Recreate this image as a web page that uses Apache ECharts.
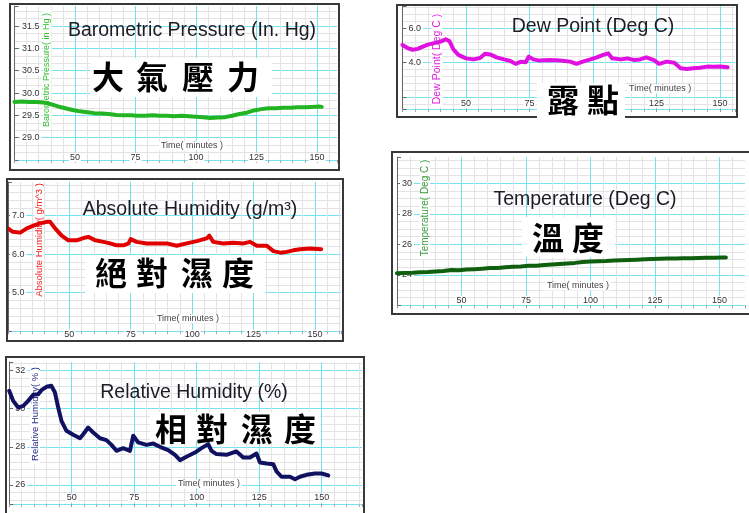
<!DOCTYPE html>
<html><head><meta charset="utf-8">
<script src="https://cdn.jsdelivr.net/npm/echarts@6/dist/echarts.min.js"></script>
<style>html,body{margin:0;padding:0;background:#fff}#c{width:749px;height:513px}</style>
</head><body><div id="c"></div>
<script>
// ---------- data ----------
const xTickLabels = [50, 75, 100, 125, 150];

const baroTime  = [25,28,31,34,37,40,43,46,49,52,55,58,61,64,67,70,73,76,79,82,85,88,91,94,97,100,103,106,109,112,115,118,121,124,127,130,133,136,139,142,145,148,151,152];
const baroValue = [29.80,29.81,29.80,29.80,29.79,29.75,29.70,29.66,29.62,29.59,29.57,29.55,29.54,29.53,29.51,29.50,29.50,29.49,29.49,29.50,29.49,29.49,29.48,29.49,29.48,29.47,29.46,29.44,29.45,29.46,29.49,29.53,29.56,29.61,29.64,29.66,29.66,29.67,29.67,29.68,29.68,29.69,29.70,29.69];
const baroTicks = [29.0, 29.5, 30.0, 30.5, 31.0, 31.5];

const dewTime  = [25,27,29,31,33,35,37,40,42,43.5,45,47,50,53,55.5,57.5,59.5,62,65,67.5,69.5,71.5,73.5,74.7,76.5,79,83,87,91,93.5,96,99,101.5,104,106,107.5,111,113.5,116,118.5,121,124,126,129,132,134.5,137,139.5,142,145,147.5,150,153];
const dewValue = [5.03,4.85,4.75,4.80,4.93,5.05,5.12,5.22,5.36,5.25,4.78,4.45,4.25,4.19,4.27,4.52,4.48,4.31,4.19,4.10,3.93,4.05,4.02,4.35,4.19,4.12,4.16,4.12,4.06,3.93,4.06,4.19,4.31,4.45,4.54,4.26,4.19,4.25,4.16,4.19,4.31,4.15,3.93,4.06,4.00,3.68,3.63,3.67,3.71,3.77,3.76,3.77,3.73];
const dewTicks = [4.0, 6.0];

const absTime  = [25,27,30,32.7,35.4,38,40.8,42.2,44.2,46.9,49.6,53,55.7,57.8,60.5,63.9,66.6,69.3,72,74.1,75,77.4,81.5,85.6,89.7,93.7,97.8,101.9,105.9,107,108.6,112.7,116.8,120.9,123.6,126.3,130.4,133.1,135.9,138.5,141.2,143.9,148,152.5];
const absValue = [6.67,6.58,6.56,6.67,6.74,6.80,6.84,6.84,6.67,6.48,6.36,6.36,6.42,6.45,6.36,6.32,6.28,6.23,6.23,6.28,6.39,6.32,6.28,6.28,6.28,6.22,6.28,6.34,6.41,6.48,6.32,6.28,6.30,6.28,6.32,6.22,6.22,6.08,6.04,6.06,6.10,6.13,6.15,6.13];
const absTicks = [5.0, 6.0, 7.0];

const tempTime  = [25,28,31,34,37,40,43,46,49,52,55,58,61,64,67,70,73,76,79,82,85,88,91,94,97,100,103,106,109,112,115,118,121,124,127,130,133,136,139,142,145,148,151,152.5];
const tempValue = [24.10,24.12,24.13,24.16,24.18,24.22,24.25,24.31,24.30,24.35,24.37,24.40,24.44,24.45,24.50,24.53,24.55,24.59,24.60,24.64,24.67,24.70,24.74,24.78,24.84,24.87,24.88,24.90,24.94,24.95,24.97,24.99,25.02,25.03,25.05,25.06,25.07,25.08,25.09,25.10,25.12,25.12,25.13,25.13];
const tempTicks = [24, 26, 28, 30];

const rhTime  = [25,26.6,28.6,30.6,32.6,34.6,36.6,37.9,39.9,41.9,43.3,44.6,45.9,47.9,50.6,53.3,54.6,56.6,58.6,61.3,63.9,65.9,67.9,70.6,73.3,74.6,76.6,79.9,82.6,85.3,88.6,91.3,93.3,95.9,99.3,101.9,104.6,105.9,107.9,111.9,115.9,118.6,121.3,123.9,125.3,127.9,130.6,131.9,133.9,137.3,139.3,141.3,143.9,147.3,149.9,152.6];
const rhValue = [30.94,30.41,30.06,30.15,30.41,30.73,30.76,30.97,31.15,31.20,30.85,30.06,29.36,28.84,28.63,28.45,28.66,29.01,28.75,28.45,28.35,28.10,27.79,27.93,27.79,28.58,28.23,28.10,28.17,28.00,27.83,27.58,27.30,27.48,27.70,27.93,28.14,27.79,27.62,27.58,27.76,27.44,27.44,27.65,27.18,27.13,27.09,26.71,26.43,26.43,26.30,26.43,26.53,26.60,26.60,26.50];
const rhTicks = [26, 28, 30, 32];

// ---------- layout / style ----------
const CYAN = '#74e3ef', MINOR = '#e3e3e3', LAT = '"Liberation Sans", Arial, sans-serif';
const CJK = '"Noto Sans CJK TC", "Noto Sans CJK SC", sans-serif';

const panels = [
  { name:'Barometric Pressure( in Hg )', title:'Barometric Pressure (In. Hg)', cjk:'大氣壓力',
    grid:{left:14.5, top:6, width:322.5, height:154}, xMax:158.3, yMin:28.5, yMax:31.95, yStep:0.5, yMinor:3, dec:1,
    xMargin:2.4, yMargin:5.5, color:'#22b422', time:baroTime, value:baroValue, ticks:baroTicks },
  { name:'Dew Point( Deg C )', title:'Dew Point (Deg C)', cjk:'露點',
    grid:{left:402.5, top:6, width:332.5, height:103.1}, xMax:155.9, yMin:1.3, yMax:7.294, yStep:2, yMinor:5, dec:1,
    xMargin:6, yMargin:4, color:'#e010e0', time:dewTime, value:dewValue, ticks:dewTicks },
  { name:'Absolute Humidity( g/m^3 )', title:'Absolute Humidity (g/m³)', cjk:'絕對濕度',
    grid:{left:7.9, top:182, width:333.1, height:149.2}, xMax:160.6, yMin:4, yMax:7.875, yStep:1, yMinor:5, dec:1,
    xMargin:-3, yMargin:2, color:'#e00000', time:absTime, value:absValue, ticks:absTicks },
  { name:'Temperature( Deg C )', title:'Temperature (Deg C)', cjk:'溫度',
    grid:{left:397, top:157, width:352, height:148.3}, xMax:159.9, yMin:22, yMax:31.72, yStep:2, yMinor:4, dec:0,
    xMargin:5, yMargin:3, color:'#0f5f0f', time:tempTime, value:tempValue, ticks:tempTicks },
  { name:'Relative Humidity( % )', title:'Relative Humidity (%)', cjk:'相對濕度',
    grid:{left:9.2, top:362, width:352.8, height:142}, xMax:166.1, yMin:25, yMax:32.45, yStep:2, yMinor:5, dec:0,
    xMargin:6, yMargin:4, color:'#111162', time:rhTime, value:rhValue, ticks:rhTicks }
];

// decoration positions
const deco = [
  { frame:[10,4,329,166], nameAt:[47,70,9,'#2bbf2b'], titleAt:[192,31], timeAt:[192,146,'center'],
    box:[90,58,182,39], chars:[108,152,198,243], charY:77 },
  { frame:[397,5,340,112], nameAt:[437,59,10.5,'#e020e0'], titleAt:[593,27], timeAt:[627,89,'left'],
    box:[537,83,88,39], chars:[563,603], charY:100 },
  { frame:[7,179,336,162], nameAt:[39,240,9.5,'#ee2020'], titleAt:[190,210], timeAt:[188,319,'center'],
    box:[85,255,180,38], chars:[111,152,197,238], charY:273 },
  { frame:[392,152,362,162], nameAt:[425,208,10,'#3c9a3c'], titleAt:[585,200], timeAt:[578,286,'center'],
    box:[522,217,93,40], chars:[548,588], charY:238 },
  { frame:[6,357,358,170], nameAt:[35,414,9.5,'#2c2c8c'], titleAt:[194,393], timeAt:[209,484,'center'],
    box:[150,412,170,29], chars:[171,212,257,300], charY:429 }
];

const near = (v, list) => list.some(t => Math.abs(t - v) < 1e-6);

const grids = [], xAxes = [], yAxes = [], series = [], graphics = [];
panels.forEach((p, i) => {
  grids.push(Object.assign({ containLabel:false }, p.grid));
  xAxes.push({
    type:'value', gridIndex:i, min:25, max:p.xMax, minInterval:25, maxInterval:25,
    axisLine:{ show:true, onZero:false, lineStyle:{ color:CYAN, width:1 } },
    axisTick:{ show:true, length:3, lineStyle:{ color:'#999' } },
    minorTick:{ show:true, splitNumber:5, length:3, lineStyle:{ color:'#aaa' } },
    splitLine:{ show:true, showMinLine:false, showMaxLine:false, lineStyle:{ color:CYAN, width:1 } },
    minorSplitLine:{ show:true, lineStyle:{ color:MINOR, width:1 } },
    axisLabel:{ show:true, inside:true, margin:p.xMargin, verticalAlign:'middle', fontSize:9, fontFamily:LAT,
      color:'#333', backgroundColor:'#fff', padding:[0,1],
      formatter: v => near(v, xTickLabels) ? String(Math.round(v)) : '' }
  });
  yAxes.push({
    type:'value', gridIndex:i, min:p.yMin, max:p.yMax, minInterval:p.yStep, maxInterval:p.yStep,
    axisLine:{ show:true, onZero:false, lineStyle:{ color:'#666', width:1 } },
    axisTick:{ show:true, inside:true, length:4, lineStyle:{ color:'#666' } },
    minorTick:{ show:false, splitNumber:p.yMinor },
    splitLine:{ show:true, showMinLine:false, showMaxLine:false, lineStyle:{ color:CYAN, width:1 } },
    minorSplitLine:{ show:true, lineStyle:{ color:MINOR, width:1 } },
    axisLabel:{ show:true, inside:true, margin:p.yMargin, fontSize:9, fontFamily:LAT, color:'#333',
      backgroundColor:'#fff', padding:[0,2],
      formatter: v => near(v, p.ticks) ? v.toFixed(p.dec) : '' }
  });
  series.push({
    type:'line', xAxisIndex:i, yAxisIndex:i, showSymbol:false, animation:false, z:3,
    lineStyle:{ color:p.color, width:4, join:'round', cap:'round' },
    data: p.time.map((t, j) => [t, p.value[j]])
  });

  const d = deco[i];
  graphics.push({ type:'rect', z:20, shape:{ x:d.frame[0], y:d.frame[1], width:d.frame[2], height:d.frame[3] },
    style:{ fill:null, stroke:'#383838', lineWidth:2 } });
  graphics.push({ type:'text', z:1, x:d.nameAt[0], y:d.nameAt[1], rotation:Math.PI/2,
    style:{ text:p.name, align:'center', verticalAlign:'middle', fill:d.nameAt[3],
      font:`${d.nameAt[2]}px ${LAT}`, backgroundColor:'#fff', padding:[0,3] } });
  graphics.push({ type:'text', z:1, x:d.timeAt[0], y:d.timeAt[1],
    style:{ text:'Time( minutes )', align:d.timeAt[2], verticalAlign:'middle', fill:'#444',
      font:`9px ${LAT}`, backgroundColor:'#fff', padding:[0,2] } });
  graphics.push({ type:'text', z:10, x:d.titleAt[0], y:d.titleAt[1],
    style:{ text:p.title, align:'center', verticalAlign:'middle', fill:'#1c1c26', font:`19.5px ${LAT}` } });
  graphics.push({ type:'rect', z:21, shape:{ x:d.box[0], y:d.box[1], width:d.box[2], height:d.box[3] },
    style:{ fill:'#fff' } });
  Array.from(p.cjk).forEach((ch, k) => {
    graphics.push({ type:'text', z:22, x:d.chars[k], y:d.charY,
      style:{ text:ch, align:'center', verticalAlign:'middle', fill:'#000', font:`bold 32px ${CJK}` } });
  });
});

const chart = echarts.init(document.getElementById('c'), null, { renderer:'canvas' });
chart.setOption({
  animation:false,
  backgroundColor:'#fff',
  grid:grids, xAxis:xAxes, yAxis:yAxes, series:series,
  graphic:{ elements:graphics }
});
</script></body></html>
